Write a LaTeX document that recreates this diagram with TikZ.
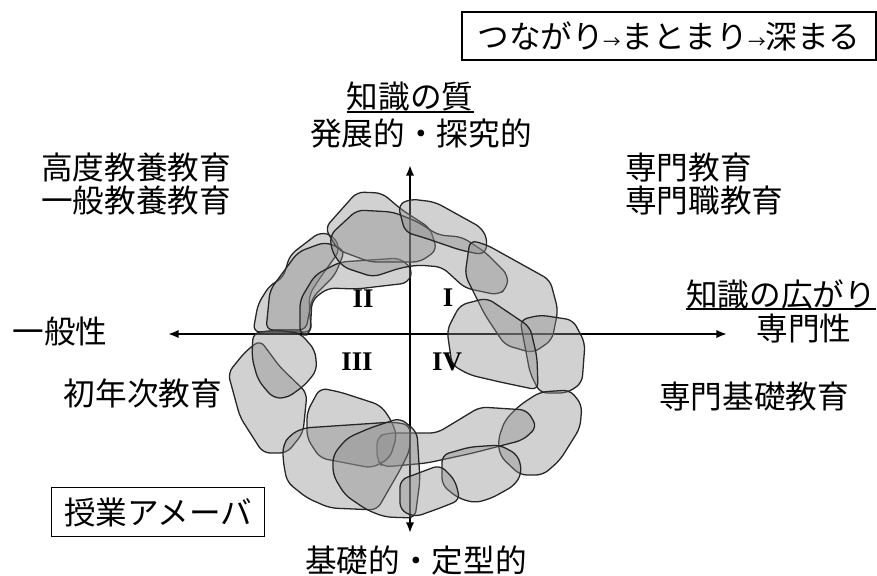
\documentclass[tikz,border=0pt]{standalone}
\usepackage{fontspec}
\setmainfont{Noto Sans CJK JP}
\newfontfamily\romanfont{Liberation Serif}
\usetikzlibrary{arrows.meta}

\begin{document}
\begin{tikzpicture}[x = 0.03cm, y = -0.03cm,
    txt/.style  = {font=\fontsize{27pt}{28pt}\selectfont, inner sep=0pt},
    quad/.style = {font=\romanfont\bfseries\fontsize{23pt}{23pt}\selectfont, inner sep=0pt},
    frame/.style = {draw, line width=1.1pt, inner sep=0pt},
    blob/.style = {draw=black!85, line width=1.1pt, fill=black!45, fill opacity=0.4,
                   rounded corners=6pt, line join=round},
    axis/.style = {line width=1.6pt, arrows={Latex[length=9pt,width=7pt]-Latex[length=9pt,width=7pt]}}]
        \useasboundingbox (0,0) rectangle (877,575);
        \coordinate (west)  at (168,334);
        \coordinate (east)  at (727,334);
        \coordinate (north) at (410,165);
        \coordinate (south) at (410,533);
        \draw[axis] (west) -- (east);
        \draw[axis] (south) -- (north);

        % amoeba ring
        \filldraw[blob] (228,373) -- (245,352) -- (260,340) -- (280,367) -- (307,393) -- (303,433) -- (287,453) -- (263,453) -- (240,417) -- cycle;
        \filldraw[blob] (253,333) -- (275,330) -- (300,333) -- (315,350) -- (317,370) -- (305,385) -- (287,398) -- (273,398) -- (258,380) -- (252,358) -- cycle;
        \filldraw[blob] (253,332) -- (258,304) -- (270,285) -- (283,278) -- (290,255) -- (303,245) -- (320,232) -- (334,236) -- (340,250) -- (320,278) -- (309,295) -- (310,318) -- (312,332) -- cycle;
        \filldraw[blob] (266,330) -- (270,290) -- (298,252) -- (325,242) -- (345,250) -- (335,275) -- (312,298) -- (306,330) -- cycle;
        \filldraw[blob] (300,335) -- (300,300) -- (315,275) -- (340,262) -- (400,258) -- (413,270) -- (408,283) -- (357,289) -- (328,288) -- (312,300) -- (310,335) -- cycle;
        \filldraw[blob] (325,228) -- (357,192) -- (382,193) -- (402,210) -- (430,228) -- (437,250) -- (420,262) -- (370,262) -- (338,250) -- cycle;
        \filldraw[blob] (332,252) -- (330,235) -- (357,210) -- (393,212) -- (418,222) -- (438,235) -- (462,237) -- (485,252) -- (508,275) -- (507,288) -- (498,295) -- (465,288) -- (442,267) -- (418,265) -- (400,268) -- (373,277) -- (343,267) -- cycle;
        \filldraw[blob] (398,205) -- (410,199) -- (435,202) -- (482,228) -- (488,242) -- (484,255) -- (460,250) -- (425,238) -- (405,232) -- cycle;
        \filldraw[blob] (470,240) -- (487,245) -- (550,280) -- (558,310) -- (552,340) -- (533,353) -- (505,345) -- (485,315) -- (465,275) -- cycle;
        \filldraw[blob] (520,320) -- (540,315) -- (573,320) -- (585,343) -- (582,383) -- (567,393) -- (540,393) -- (530,373) -- cycle;
        \filldraw[blob] (447,330) -- (460,305) -- (487,298) -- (530,327) -- (537,357) -- (538,390) -- (500,382) -- (470,375) -- (452,365) -- cycle;
        \filldraw[blob] (505,420) -- (520,405) -- (540,392) -- (570,390) -- (582,405) -- (580,428) -- (560,460) -- (543,475) -- (520,475) -- (500,456) -- (498,440) -- cycle;
        \filldraw[blob] (377,437) -- (387,433) -- (437,433) -- (480,407) -- (527,410) -- (537,427) -- (523,440) -- (473,453) -- (427,463) -- (383,467) -- (377,460) -- cycle;
        \filldraw[blob] (442,455) -- (442,485) -- (458,498) -- (475,503) -- (492,498) -- (515,485) -- (522,472) -- (518,455) -- (500,445) -- (470,447) -- cycle;
        \filldraw[blob] (307,412) -- (320,388) -- (340,392) -- (380,405) -- (390,418) -- (397,435) -- (390,458) -- (372,468) -- (320,458) -- (307,438) -- cycle;
        \filldraw[blob] (283,445) -- (290,435) -- (303,428) -- (393,422) -- (410,425) -- (410,450) -- (400,470) -- (377,510) -- (330,508) -- (307,498) -- (287,482) -- (283,460) -- cycle;
        \filldraw[blob] (333,455) -- (347,438) -- (370,428) -- (400,418) -- (417,432) -- (420,480) -- (415,518) -- (385,517) -- (367,510) -- (345,495) -- (333,475) -- cycle;
        \filldraw[blob] (400,480) -- (440,465) -- (455,480) -- (460,500) -- (440,508) -- (415,517) -- (400,510) -- cycle;

        % quadrants
        \node[quad] (q1) at (448,298) {I};
        \node[quad] (q2) at (363,299) {II};
        \node[quad] (q3) at (357,362) {III};
        \node[quad] (q4) at (447,362) {IV};

        % axis labels
        \node[txt] (quality) at (410,97)  {知識の質};
        \draw[line width=1.3pt] (quality.south west) -- (quality.south east);
        \node[txt] (deep)    at (421,133) {発展的・探究的};
        \node[txt] (basic)   at (416,560) {基礎的・定型的};
        \node[txt] (general) at (60,331)  {一般性};
        \node[txt] (breadth) at (781,294) {知識の広がり};
        \draw[line width=1.3pt] (breadth.south west) -- (breadth.south east);
        \node[txt] (special) at (804,329) {専門性};

        % kinds of education
        \node[txt, align=center] (liberal) at (136,184) {高度教養教育\\一般教養教育};
        \node[txt, align=left, anchor=west] (major) at (625,184) {専門教育\\専門職教育};
        \node[txt] (firstyear)  at (143,393) {初年次教育};
        \node[txt] (basicmajor) at (754,396) {専門基礎教育};

        \node[txt, frame, minimum width=6.39cm, minimum height=1.47cm] (amoeba) at (158,512) {授業アメーバ};
        \node[txt, frame, minimum width=12.42cm, minimum height=1.44cm] (flow) at (669,36)
            {つながり{\fontsize{15pt}{15pt}\selectfont →}まとまり{\fontsize{15pt}{15pt}\selectfont →}深まる};
\end{tikzpicture}
\end{document}
